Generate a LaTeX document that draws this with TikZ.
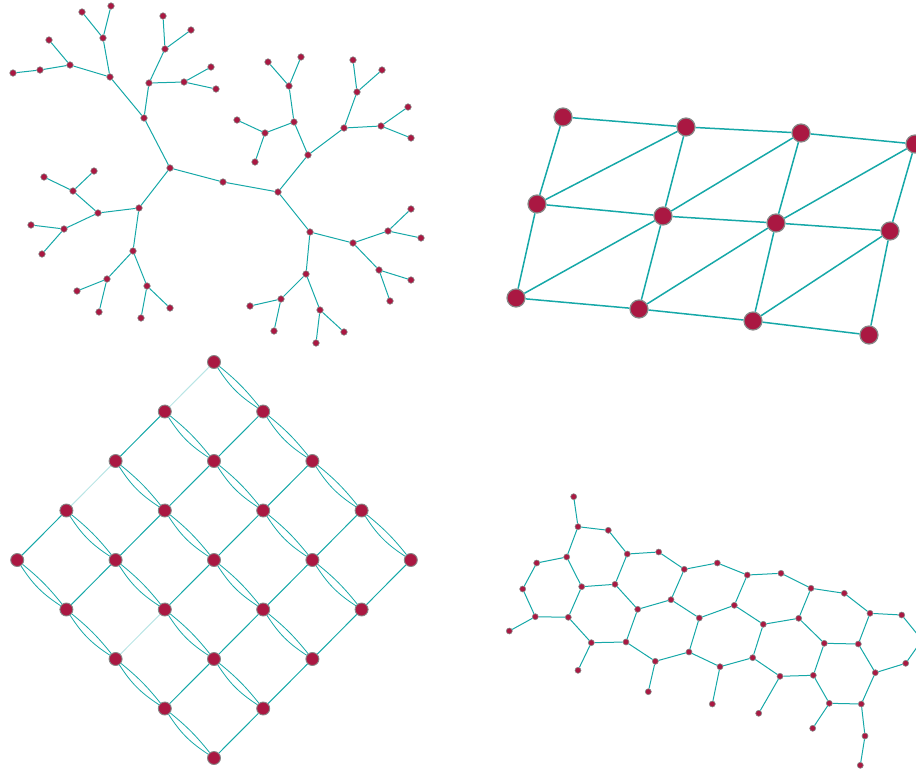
\documentclass[tikz,border=0pt]{standalone}
\usetikzlibrary{backgrounds}
\definecolor{edgeteal}{RGB}{22,168,168}
\definecolor{vcrim}{RGB}{170,24,66}
\definecolor{vgray}{RGB}{135,135,135}
\pgfdeclarelayer{edges}
\pgfsetlayers{edges,main}
\tikzset{
  vsmall/.style={circle,inner sep=0pt,minimum size=6.5pt,fill=vcrim,draw=vgray,line width=0.6pt},
  vmid/.style={circle,inner sep=0pt,minimum size=13pt,fill=vcrim,draw=vgray,line width=0.9pt},
  vbig/.style={circle,inner sep=0pt,minimum size=18pt,fill=vcrim,draw=vgray,line width=1.2pt},
  ethin/.style={draw=edgeteal,line width=1pt},
  ethick/.style={draw=edgeteal,line width=1.5pt},
  efaint/.style={draw=edgeteal!30,line width=1pt},
  ecurve/.style={draw=edgeteal,line width=0.8pt}
}
\begin{document}
\begin{tikzpicture}[x=1pt,y=-1pt]
\useasboundingbox (0,0) rectangle (916,771);
\clip (0,0) rectangle (916,771);
% ---------------- tree ----------------
\foreach \n/\p in {
 tA/{170,168}, tM/{223,182}, tB/{278,192},
 t1/{144,118}, t11/{110,77}, t111/{103,38}, t1111/{82,12}, t1112/{111,6},
 t112/{70,65}, t1121/{49,40}, t1122/{40,70}, t11221/{13,73},
 t12/{149,83}, t121/{165,49}, t1211/{163,16}, t1212/{191,30},
 t122/{184,82}, t1221/{211,67}, t1222/{216,89},
 t2/{139,208}, t21/{98,213}, t211/{73,191}, t2111/{44,177}, t2112/{94,171},
 t212/{64,229}, t2121/{31,225}, t2122/{42,254},
 t22/{133,251}, t221/{107,279}, t2211/{77,291}, t2212/{99,312},
 t222/{147,286}, t2221/{141,318}, t2222/{170,308},
 t3/{308,155}, t31/{294,122}, t311/{289,86}, t3111/{268,62}, t3112/{301,57},
 t312/{265,133}, t3121/{237,120}, t3122/{255,162},
 t32/{344,128}, t321/{357,92}, t3211/{353,60}, t3212/{382,70},
 t322/{381,126}, t3221/{408,107}, t3222/{411,138},
 t4/{310,232}, t41/{353,243}, t411/{388,231}, t4111/{411,209}, t4112/{421,238},
 t412/{379,270}, t4121/{411,280}, t4122/{390,301},
 t42/{306,274}, t421/{281,299}, t4211/{250,306}, t4212/{274,331},
 t422/{320,310}, t4221/{344,332}, t4222/{316,343}}
  \node[vsmall] (\n) at (\p) {};
\begin{pgfonlayer}{edges}
\foreach \a/\b in {tA/tM, tM/tB,
 tA/t1, t1/t11, t11/t111, t111/t1111, t111/t1112, t11/t112, t112/t1121, t112/t1122, t1122/t11221,
 t1/t12, t12/t121, t121/t1211, t121/t1212, t12/t122, t122/t1221, t122/t1222,
 tA/t2, t2/t21, t21/t211, t211/t2111, t211/t2112, t21/t212, t212/t2121, t212/t2122,
 t2/t22, t22/t221, t221/t2211, t221/t2212, t22/t222, t222/t2221, t222/t2222,
 tB/t3, t3/t31, t31/t311, t311/t3111, t311/t3112, t31/t312, t312/t3121, t312/t3122,
 t3/t32, t32/t321, t321/t3211, t321/t3212, t32/t322, t322/t3221, t322/t3222,
 tB/t4, t4/t41, t41/t411, t411/t4111, t411/t4112, t41/t412, t412/t4121, t412/t4122,
 t4/t42, t42/t421, t421/t4211, t421/t4212, t42/t422, t422/t4221, t422/t4222}
  \draw[ethin] (\a) -- (\b);
\end{pgfonlayer}
% ---------------- triangular grid ----------------
\foreach \n/\p in {g11/{563,117}, g12/{686,127}, g13/{801,133}, g14/{915,144},
 g21/{537,204}, g22/{663,216}, g23/{776,223}, g24/{890,231},
 g31/{516,298}, g32/{639,309}, g33/{753,321}, g34/{869,335}}
  \node[vbig] (\n) at (\p) {};
\begin{pgfonlayer}{edges}
\foreach \a/\b in {g11/g12, g12/g13, g13/g14, g21/g22, g22/g23, g23/g24, g31/g32, g32/g33, g33/g34,
 g11/g21, g12/g22, g13/g23, g14/g24, g21/g31, g22/g32, g23/g33, g24/g34,
 g21/g12, g22/g13, g23/g14, g31/g22, g32/g23, g33/g24}
  \draw[ethick] (\a) -- (\b);
\end{pgfonlayer}
% ---------------- diamond lattice ----------------
\foreach \i in {0,...,4}
  \foreach \j in {0,...,4}
    \node[vmid] (d\i\j) at ({214+49.2*(\i-\j)},{362+49.5*(\i+\j)}) {};
\begin{pgfonlayer}{edges}
\foreach \a/\b in {d01/d02, d03/d04, d10/d11, d11/d12, d12/d13, d13/d14,
 d20/d21, d21/d22, d22/d23, d30/d31, d31/d32, d32/d33, d33/d34,
 d40/d41, d41/d42, d42/d43, d43/d44}
  \draw[ethin] (\a) -- (\b);
\foreach \a/\b in {d00/d01, d02/d03, d23/d24}
  \draw[efaint] (\a) -- (\b);
\foreach \i [evaluate=\i as \k using int(\i+1)] in {0,...,3}
  \foreach \j in {0,...,4} {
    \draw[ecurve] (d\i\j) to[bend left=6] (d\k\j);
    \draw[ecurve] (d\i\j) to[bend right=12] (d\k\j);
  }
\end{pgfonlayer}
% ---------------- hexagonal strip ----------------
\foreach \n/\p in {
 h1/{573.7,496.7}, h2/{578,526.7}, h3/{608.3,530.3}, h4/{566.7,557}, h5/{536.7,563},
 h6/{627.3,554}, h7/{658.7,552}, h8/{522.7,589}, h9/{581.7,586.7}, h10/{615,584.3},
 h11/{684.3,569.3}, h12/{717.3,563}, h13/{535.3,616.7}, h14/{568.3,617.3}, h15/{509.3,631},
 h16/{637.7,609.3}, h17/{671,599.7}, h18/{747.3,575}, h19/{781,573.3}, h20/{591.3,642.7},
 h21/{626,642}, h22/{699.3,618}, h23/{734.3,605.3}, h24/{811,588.3}, h25/{844.3,593.3},
 h26/{578,670.3}, h27/{655.3,661.3}, h28/{689,652}, h29/{763.3,624.3}, h30/{798.7,618.3},
 h31/{870,613.3}, h32/{901.7,615}, h33/{648.3,691.7}, h34/{720,666.7}, h35/{752.7,657.7},
 h36/{824.3,643.3}, h37/{858.3,644}, h38/{922,640}, h39/{712.3,704}, h40/{780,676.3},
 h41/{813.3,675.3}, h42/{905.7,663.3}, h43/{875.3,672.7}, h44/{758.7,713.3}, h45/{829.3,703.3},
 h46/{861.3,704}, h47/{812.7,728.3}, h48/{865,736}, h49/{860.3,765.3}}
  \node[vsmall,minimum size=6pt] (\n) at (\p) {};
\begin{pgfonlayer}{edges}
\foreach \a/\b in {h1/h2, h2/h3, h2/h4, h3/h6, h4/h5, h4/h9, h5/h8, h8/h13, h13/h14, h13/h15,
 h14/h9, h14/h20, h9/h10, h10/h6, h10/h16, h6/h7, h7/h11, h11/h12, h11/h17, h12/h18,
 h16/h17, h16/h21, h17/h22, h18/h19, h18/h23, h19/h24, h20/h21, h20/h26, h21/h27,
 h22/h23, h22/h28, h23/h29, h24/h25, h24/h30, h25/h31, h27/h28, h27/h33, h28/h34,
 h29/h30, h29/h35, h30/h36, h31/h32, h31/h37, h32/h38, h38/h42, h34/h35, h34/h39,
 h35/h40, h36/h37, h36/h41, h37/h43, h42/h43, h40/h41, h40/h44, h41/h45, h43/h46,
 h45/h46, h45/h47, h46/h48, h48/h49}
  \draw[ethin] (\a) -- (\b);
\end{pgfonlayer}
\end{tikzpicture}
\end{document}
